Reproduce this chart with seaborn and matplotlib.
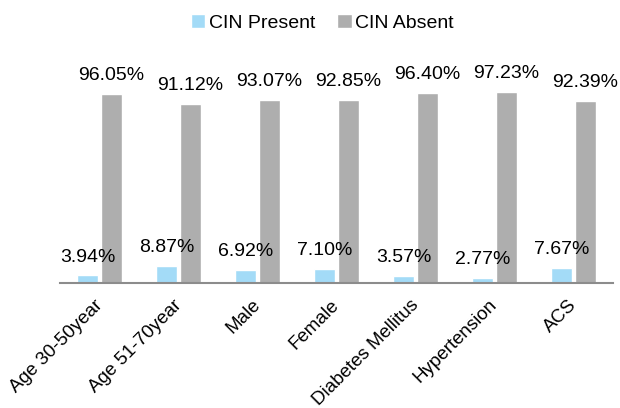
import pandas as pd
import seaborn as sns
from matplotlib import pyplot as plt

px = 1/100

categories = ['Age 30-50year', 'Age 51-70year', 'Male', 'Female',
              'Diabetes Mellitus', 'Hypertension', 'ACS']
cin_present = [3.94, 8.87, 6.92, 7.10, 3.57, 2.77, 7.67]
cin_absent = [96.05, 91.12, 93.07, 92.85, 96.40, 97.23, 92.39]
series = ['CIN Present', 'CIN Absent']

data = pd.DataFrame({
    'category': categories * 2,
    'value': cin_present + cin_absent,
    'group': [series[0]] * len(categories) + [series[1]] * len(categories),
})

sns.set_style("white")
plt.rcParams['font.family'] = ['Liberation Sans', 'DejaVu Sans']
plt.rcParams['text.color'] = 'black'
plt.rcParams['xtick.color'] = 'black'

fig = plt.figure(figsize=(620*px, 408*px), dpi=100)
ax = fig.add_axes([0.097, 0.306, 0.892, 0.483])

g = sns.barplot(data=data, x='category', y='value', hue='group',
                palette=['#A3DBF7', '#AEAEAE'], width=0.6, gap=0.1,
                saturation=1, ax=ax)

for cont in g.containers:
    g.bar_label(cont, labels=[f'{v:.2f}%' for v in cont.datavalues],
                padding=7, fontsize=14, color='black')

g.set_ylim(0, 100)
g.set_xlim(-0.5, 6.5)
g.set_xlabel('')
g.set_ylabel('')
g.set_yticks([])
for s in ['top', 'right', 'left']:
    g.spines[s].set_visible(False)
g.spines['bottom'].set_color('#8C8C8C')
g.spines['bottom'].set_linewidth(1.5)

# rotated category labels, the long one runs off the bottom like the original
g.tick_params(axis='x', length=0, pad=14)
plt.setp(g.get_xticklabels(), rotation=45, ha='right', va='center',
         rotation_mode='anchor', fontsize=13.5, color='black')

leg = g.legend(loc='upper center', bbox_to_anchor=(0.52, 0.99),
               bbox_transform=fig.transFigure, ncol=2, frameon=False,
               fontsize=14, handlelength=0.75, handleheight=0.75,
               handletextpad=0.2, columnspacing=1.1, borderaxespad=0.1)
for t in leg.get_texts():
    t.set_color('black')

plt.savefig('out.png', dpi=100)
